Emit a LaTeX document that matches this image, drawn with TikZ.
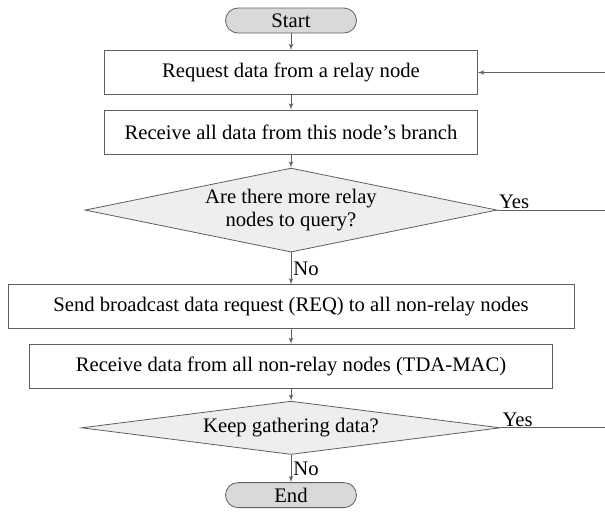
\documentclass[tikz,border=0pt]{standalone}
\usepackage{fontspec}
\setmainfont{Liberation Serif}
\usepackage{tikz}
\usetikzlibrary{positioning}
\usetikzlibrary{shapes,arrows}
\definecolor{lineGray}{RGB}{95,95,95}
\definecolor{termGray}{RGB}{217,217,217}
\definecolor{decGray}{RGB}{238,238,238}

\begin{document}
\begin{tikzpicture} [>=latex', font=\fontsize{15.5}{17.5}\selectfont]
            % Set primary nodes
            \tikzset{
                terminalNode/.style={
                        draw=lineGray,
                        fill=termGray,
                        rounded rectangle,
                        line width=0.6pt,
                        minimum height=18.75pt,
                        minimum width=98.25pt,
                        inner sep=0pt
                    }
            }
            \tikzset{
                processNode/.style={
                        draw=lineGray,
                        rectangle,
                        line width=0.6pt,
                        minimum height=33pt
                    }
            }
            \tikzset{
                decisionNode/.style={
                        draw=lineGray,
                        fill=decGray,
                        diamond,
                        line width=0.6pt,
                        inner sep=0pt,
                        align=center
                    }
            }
            % Configure arrows
            \tikzstyle{arrow} = [->, draw=lineGray, line width=0.6pt]
            \tikzstyle{loopLine} = [draw=lineGray, line width=0.6pt]
            \useasboundingbox (0,0) rectangle (453.75pt,-384pt);
            % Placing nodes
            \node[terminalNode] at (218.25pt,-15.375pt) (start){Start};
            \node[processNode, minimum width=279.75pt, below = 12.5pt of start](request){Request data from a relay node};
            \node[processNode, minimum width=279.75pt, below = 11pt of request](receive){Receive all data from this node's branch};
            \node[decisionNode, minimum width=309pt, minimum height=63pt, aspect=4.85, below = 10pt of receive](moreRelays){Are there more relay\\nodes to query?};
            \node[processNode, minimum width=424.5pt, below = 24pt of moreRelays](broadcast){Send broadcast data request (REQ) to all non-relay nodes};
            \node[processNode, minimum width=392.25pt, below = 11pt of broadcast](receiveAll){Receive data from all non-relay nodes (TDA-MAC)};
            \node[decisionNode, minimum width=314.25pt, minimum height=40pt, aspect=7.9, below = 9pt of receiveAll](keepGathering){Keep gathering data?};
            \node[terminalNode, below = 20.5pt of keepGathering](end){End};
            % Loop ends at the right edge
            \coordinate (rightEdge) at (453.75pt,0);
            % Draw arrows
            \draw[arrow](start.south) -- (request.north);
            \draw[arrow](request.south) -- (receive.north);
            \draw[arrow](receive.south) -- (moreRelays.north);
            \draw[arrow](moreRelays.south) -- (broadcast.north) node[midway,right,inner sep=1.5pt]{No};
            \draw[arrow](broadcast.south) -- (receiveAll.north);
            \draw[arrow](receiveAll.south) -- (keepGathering.north);
            \draw[arrow](keepGathering.south) -- (end.north) node[midway,right,inner sep=1.5pt]{No};
            \draw[loopLine](moreRelays.east) -- (moreRelays.east -| rightEdge);
            \node[anchor=south west, inner sep=1pt] at (moreRelays.east) (yesRelays){Yes};
            \draw[loopLine](keepGathering.east) -- (keepGathering.east -| rightEdge);
            \node[anchor=south west, inner sep=1pt] at (keepGathering.east) (yesGather){Yes};
            \draw[arrow](request.east -| rightEdge) -- (request.east);
        \end{tikzpicture}
\end{document}
